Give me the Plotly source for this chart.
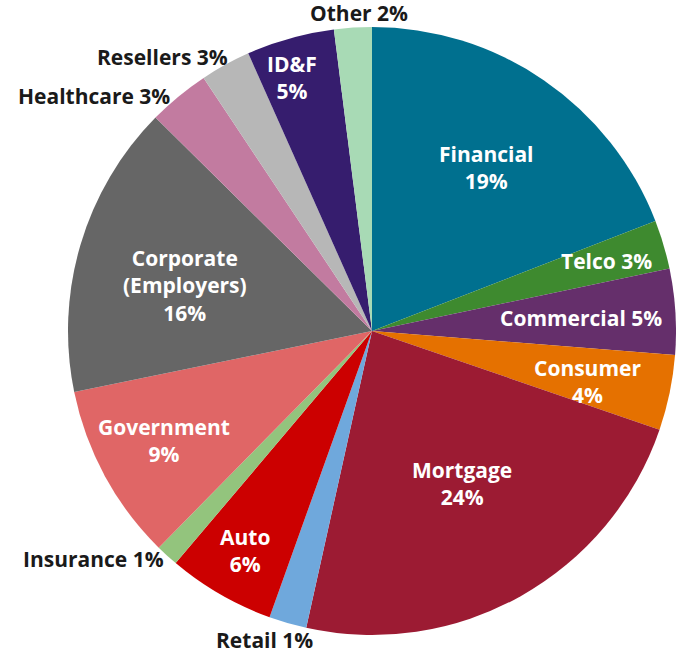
import plotly.graph_objects as go

# Data (clockwise from 12 o'clock)
categories = ["Financial", "Telco", "Commercial", "Consumer", "Mortgage", "Retail",
              "Auto", "Insurance", "Government", "Corporate (Employers)", "Healthcare",
              "Resellers", "ID&F", "Other"]
shares = [19.1, 2.6, 4.55, 4.0, 23.2, 2.0, 5.7, 1.2, 9.4, 15.6, 3.27, 2.67, 4.67, 2.0]
label_texts = ["Financial<br>19%", "Telco 3%", "Commercial 5%", "Consumer<br>4%",
               "Mortgage<br>24%", "Retail 1%", "Auto<br>6%", "Insurance 1%",
               "Government<br>9%", "Corporate<br>(Employers)<br>16%", "Healthcare 3%",
               "Resellers 3%", "ID&F<br>5%", "Other 2%"]

# Styles
colors = ["#00708F", "#3E8A2F", "#652F6B", "#E57100", "#9C1B33", "#6FA8DC",
          "#CC0000", "#93C47D", "#E06666", "#666666", "#C27BA0", "#B7B7B7",
          "#361D6E", "#A8DAB5"]
label_colors = ["white", "white", "white", "white", "white", "#1a1a1a", "white",
                "#1a1a1a", "white", "white", "#1a1a1a", "#1a1a1a", "white", "#1a1a1a"]
# label centres in pixels (x, y from top)
label_pos = [(486, 168), (606, 261), (581, 318), (587, 381), (462, 483), (264, 640),
             (245, 550), (94, 559), (164, 440), (185, 285), (94, 96), (162, 57),
             (292, 77), (359, 13)]

W, H = 676, 653

fig = go.Figure(go.Pie(
    labels=categories,
    values=shares,
    sort=False,
    direction="clockwise",
    rotation=0,
    marker=dict(colors=colors, line=dict(width=0)),
    textinfo="none",
    showlegend=False,
    domain=dict(x=[68 / W, 1.0], y=[1 - 635 / H, 1 - 27 / H]),
))

for txt, col, (px, py) in zip(label_texts, label_colors, label_pos):
    fig.add_annotation(
        x=px / W, y=1 - py / H, xref="paper", yref="paper",
        text="<b>" + txt + "</b>", showarrow=False,
        xanchor="center", yanchor="middle", align="center",
        font=dict(family="Open Sans", size=21, color=col),
    )

fig.update_layout(
    width=W, height=H,
    margin=dict(l=0, r=0, t=0, b=0),
    paper_bgcolor="white",
    plot_bgcolor="white",
)

fig.write_html(
    "out.html",
    config={"displayModeBar": False},
    post_script="document.body.style.margin='0';document.body.style.overflow='hidden';",
)
